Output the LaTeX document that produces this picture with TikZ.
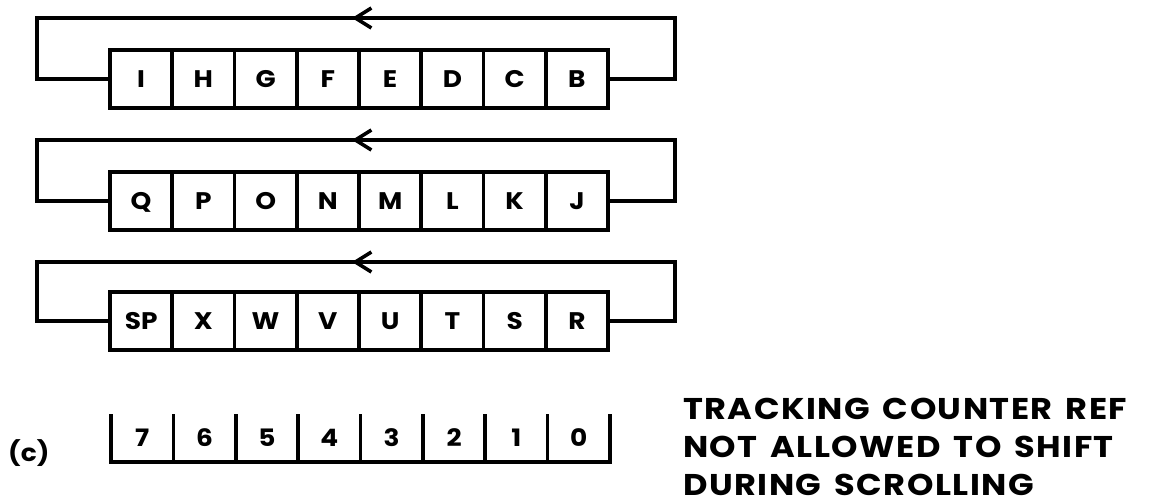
\documentclass[tikz,border=0pt]{standalone}
\usepackage{fontspec}
\setmainfont{Poppins}[FakeStretch=1.1]
\newfontfamily\notefont{Poppins}[FakeStretch=1.12, LetterSpace=5, WordSpace=1.5]
\usetikzlibrary{arrows.meta}
\tikzset{
  wire/.style={line width=3.6pt, line join=miter},
  cellfont/.style={font=\bfseries\fontsize{24}{24}\selectfont},
  cell/.style={draw, line width=3.6pt, minimum width=62.25pt, minimum height=58pt,
    inner sep=0pt, outer sep=0pt, cellfont, text height=17pt, text depth=0pt},
  digit/.style={minimum width=62.375pt, minimum height=48pt,
    inner sep=0pt, outer sep=0pt, cellfont, text height=17pt, text depth=0pt},
  note/.style={anchor=base west, inner sep=0pt, text depth=0pt,
    font=\notefont\bfseries\fontsize{30}{38}\selectfont},
  barb/.style={-{Straight Barb[length=16pt,width=20pt]}}
}
\begin{document}
\begin{tikzpicture}[x=1pt,y=-1pt]
\useasboundingbox (0,0) rectangle (1149,500);

% row 1
\foreach \l [count=\i from 0] in {I,H,G,F,E,D,C,B}
  \node[cell] (a\i) at (141.125+62.25*\i,79) {\l};
\coordinate (a-tr) at (675,18);
\coordinate (a-tl) at (37,18);
\coordinate (a-tip) at (352,18);
\draw[wire] (a7.east) -| (a-tr) -- (a-tl) |- (a0.west);
\draw[wire,barb] (a-tr) -- (a-tip);

% row 2
\foreach \l [count=\i from 0] in {Q,P,O,N,M,L,K,J}
  \node[cell] (b\i) at (141.125+62.25*\i,201) {\l};
\coordinate (b-tr) at (675,140);
\coordinate (b-tl) at (37,140);
\coordinate (b-tip) at (352,140);
\draw[wire] (b7.east) -| (b-tr) -- (b-tl) |- (b0.west);
\draw[wire,barb] (b-tr) -- (b-tip);

% row 3
\foreach \l [count=\i from 0] in {SP,X,W,V,U,T,S,R}
  \node[cell] (c\i) at (141.125+62.25*\i,321) {\l};
\coordinate (c-tr) at (675,262);
\coordinate (c-tl) at (37,262);
\coordinate (c-tip) at (352,262);
\draw[wire] (c7.east) -| (c-tr) -- (c-tl) |- (c0.west);
\draw[wire,barb] (c-tr) -- (c-tip);

% row 4: tracking counter reference
\foreach \l [count=\i from 0] in {7,6,5,4,3,2,1,0}
  \node[digit] (d\i) at (142.19+62.375*\i,438) {\l};
\draw[wire] (d0.north west) -- (d0.south west) -- (d7.south east) -- (d7.north east);
\foreach \i in {1,...,7}
  \draw[wire] (d\i.north west) -- (d\i.south west);

\node[cellfont, anchor=west, inner sep=0pt] (lab) at (8,453) {(c)};

\node[note] (t1) at (683,419.5) {TRACKING COUNTER REF};
\node[note] (t2) at (683,457.5) {NOT ALLOWED TO SHIFT};
\node[note] (t3) at (683,495.5) {DURING SCROLLING};
\end{tikzpicture}
\end{document}
